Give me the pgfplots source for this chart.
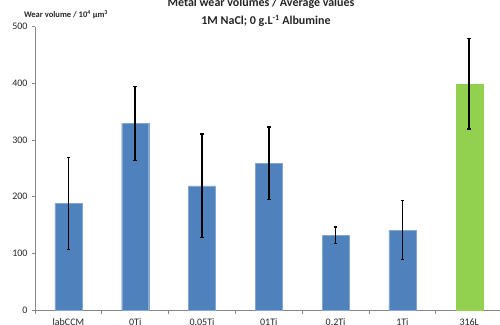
\documentclass[border=0pt]{standalone}
\usepackage{pgfplots}
\pgfplotsset{compat=1.18}
\usepackage{fontspec}
\setmainfont{Carlito}
\definecolor{barblue}{HTML}{4F81BD}
\definecolor{bargreen}{HTML}{92D050}
\definecolor{axgray}{HTML}{868686}
\begin{document}
\begin{tikzpicture}[x=1pt,y=1pt]
\clip (0,0) rectangle (500,324);
\path[fill=white] (0,0) rectangle (500,324);
\begin{axis}[
  at={(35pt,14pt)}, anchor=south west,
  scale only axis, width=467.6pt, height=283.5pt,
  xmin=-0.5, xmax=6.5, ymin=0, ymax=500,
  axis x line*=bottom, axis y line*=left,
  axis line style={axgray, line width=0.8pt},
  xtick={0,...,6},
  xticklabels={labCCM,0Ti,0.05Ti,01Ti,0.2Ti,1Ti,316L},
  minor xtick={-0.5,0.5,...,6.5},
  major x tick style={draw=none},
  minor x tick style={axgray, line width=0.8pt},
  x tick label style={yshift=-2pt},
  ytick={0,100,...,500},
  y tick style={axgray, line width=0.8pt},
  tick align=outside,
  major tick length=3pt, minor tick length=4pt,
  tick label style={font=\fontsize{10}{11}\selectfont, text=black!85},
  yticklabel style={xshift=-1pt},
  /pgf/number format/assume math mode=true,
  ybar, bar width=27pt, bar shift=0pt,
  clip=false,
]
\addplot[fill=barblue, draw=barblue!70!white, line width=0.4pt, bar shift=0pt,
  error bars/.cd, y dir=both, y explicit,
  error bar style={black, line width=1.6pt},
  error mark options={black, rotate=90, mark size=1.8pt, line width=1.6pt}]
  coordinates {
  (0,188) +- (0,81)
  (1,329) +- (0,65)
  (2,219) +- (0,91)
  (3,259) +- (0,64)
  (4,132) +- (0,14.5)
  (5,141) +- (0,52)
};
\addplot[fill=bargreen, draw=bargreen, line width=0.4pt, bar shift=0pt,
  error bars/.cd, y dir=both, y explicit,
  error bar style={black, line width=1.6pt},
  error mark options={black, rotate=90, mark size=1.8pt, line width=1.6pt}]
  coordinates {
  (6,399) +- (0,80)
};
\end{axis}
\node[font=\fontsize{8.5}{10}\selectfont\bfseries, text=black!85] at (66,309.5) {Wear volume / 10\textsuperscript{4} µm\textsuperscript{3}};
\node[font=\fontsize{12}{14}\selectfont\bfseries, text=black!85, anchor=base] at (261,317) {Metal wear volumes / Average values};
\node[font=\fontsize{12}{14}\selectfont\bfseries, text=black!85, anchor=base] at (266,299) {1M NaCl; 0 g.L\textsuperscript{-1} Albumine};
\end{tikzpicture}
\end{document}
